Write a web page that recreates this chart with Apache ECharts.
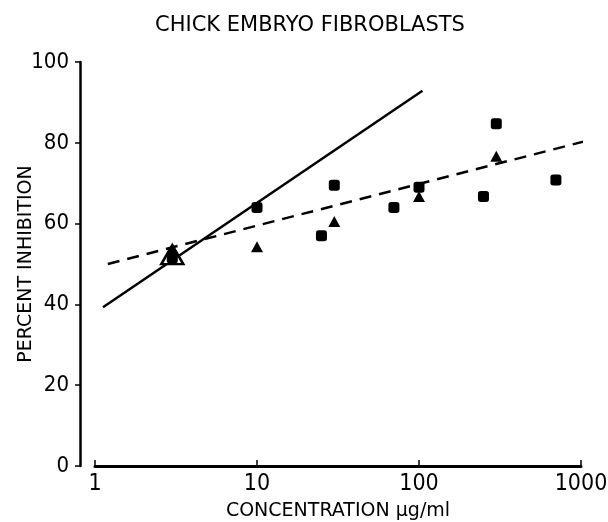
<!DOCTYPE html>
<html>
<head>
<meta charset="utf-8">
<script src="https://cdn.jsdelivr.net/npm/echarts@6/dist/echarts.min.js"></script>
<style>
html,body{margin:0;padding:0;background:#fff;}
#chart{width:608px;height:522px;}
</style>
</head>
<body>
<div id="chart"></div>
<script>
// Data
var chartTitle = 'CHICK EMBRYO FIBROBLASTS';
var xAxisTitle = 'CONCENTRATION \u03bcg/ml';
var yAxisTitle = 'PERCENT INHIBITION';
var yTicks = [0, 20, 40, 60, 80, 100];
var xTicks = [1, 10, 100, 1000];
// filled squares: [concentration, % inhibition]
var squares = [[3, 51.5], [10, 64], [25, 57], [30, 69.5], [70, 64], [100, 69], [250, 66.7], [300, 84.7], [700, 70.8]];
// filled triangles
var triangles = [[3, 53.7], [10, 54.3], [30, 60.5], [100, 66.7], [300, 76.7]];
// open triangle
var openTriangles = [[3, 52.3]];
// solid regression line
var solidLine = [[1.12, 39.3], [105, 92.9]];
// dashed regression line
var dashedLine = [[1.2, 50], [1240, 81.1]];

var FONT = "'Liberation Sans Narrow', 'DejaVu Sans Condensed', 'Liberation Sans', sans-serif";
var TFONT = "'DejaVu Sans', sans-serif";
var chart = echarts.init(document.getElementById('chart'), null, {renderer: 'canvas'});
chart.setOption({
  backgroundColor: '#fff',
  animation: false,
  title: {
    text: chartTitle,
    left: 150, top: 10,
    textStyle: {fontFamily: TFONT, fontWeight: 'normal', fontSize: 21, color: '#000'}
  },
  grid: {left: 95, right: 27, top: 62, bottom: 56, containLabel: false, outerBoundsMode: 'none'},
  xAxis: {
    type: 'log', logBase: 10, min: xTicks[0], max: xTicks[xTicks.length - 1],
    name: xAxisTitle, nameLocation: 'middle', nameGap: 36, nameMoveOverlap: false,
    nameTextStyle: {fontFamily: TFONT, fontSize: 19, color: '#000'},
    axisLine: {show: true, lineStyle: {color: '#000', width: 3}},
    axisTick: {show: true, inside: true, length: 6, lineStyle: {color: '#000', width: 1.5}},
    axisLabel: {color: '#000', fontSize: 23, fontFamily: FONT, margin: 7,
                formatter: function (v) { return String(v); }},
    splitLine: {show: false},
    minorTick: {show: false}
  },
  yAxis: {
    type: 'value', min: yTicks[0], max: yTicks[yTicks.length - 1], interval: 20,
    offset: 15,
    name: yAxisTitle, nameLocation: 'middle', nameGap: 44, nameRotate: 90, nameMoveOverlap: false,
    nameTextStyle: {fontFamily: TFONT, fontSize: 19, color: '#000'},
    axisLine: {show: true, lineStyle: {color: '#000', width: 2.5}},
    axisTick: {show: true, length: 5, lineStyle: {color: '#000', width: 1.5}},
    axisLabel: {color: '#000', fontSize: 22, fontFamily: FONT, margin: 11},
    splitLine: {show: false}
  },
  series: [
    {type: 'line', data: solidLine, showSymbol: false, symbol: 'none', clip: false,
     lineStyle: {color: '#000', width: 2.5}, z: 2},
    {type: 'line', data: dashedLine, showSymbol: false, symbol: 'none', clip: false,
     lineStyle: {color: '#000', width: 2.5, type: [12, 8]}, z: 2},
    {type: 'scatter', data: openTriangles, symbol: 'triangle', symbolSize: [22, 19],
     itemStyle: {color: '#fff', borderColor: '#000', borderWidth: 2.5, opacity: 1}, z: 3},
    {type: 'scatter', data: squares, symbol: 'roundRect', symbolSize: 11,
     itemStyle: {color: '#000', opacity: 1}, z: 4},
    {type: 'scatter', data: triangles, symbol: 'triangle', symbolSize: [12, 11],
     itemStyle: {color: '#000', opacity: 1}, z: 4}
  ]
});
</script>
</body>
</html>
